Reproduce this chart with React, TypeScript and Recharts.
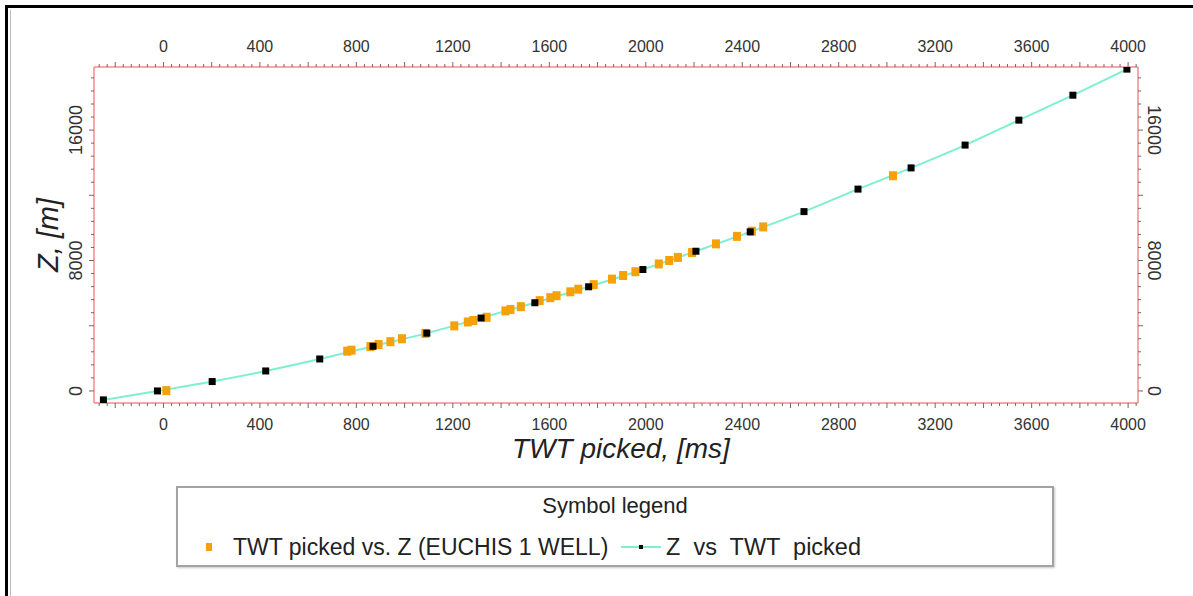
import * as React from "react"
import { ComposedChart, Line, Scatter, XAxis, YAxis, Legend } from "recharts"

// Z vs TWT picked (black markers on the aquamarine line)
const lineTwt = [-249, -25, 202, 424, 648, 869, 1092, 1317, 1540, 1763, 1988, 2208, 2433, 2656, 2880, 3100, 3324, 3547, 3771, 3995]
const lineZ = [-550, 0, 575, 1225, 1960, 2740, 3545, 4470, 5410, 6390, 7450, 8570, 9760, 11000, 12380, 13680, 15080, 16610, 18140, 19740]

// TWT picked vs. Z (EUCHIS 1 WELL) (orange squares)
const wellTwt = [12, 762, 780, 858, 892, 941, 989, 1086, 1206, 1262, 1285, 1340, 1418, 1439, 1482, 1560, 1604, 1630, 1687, 1720, 1784, 1860, 1906, 1957, 2054, 2097, 2133, 2192, 2291, 2378, 2440, 2487, 3025]
const wellZ = [20, 2440, 2500, 2720, 2850, 3020, 3200, 3530, 3990, 4230, 4320, 4520, 4910, 5000, 5170, 5540, 5720, 5840, 6080, 6240, 6520, 6860, 7080, 7310, 7790, 8000, 8190, 8490, 9020, 9480, 9800, 10060, 13200]

const xLabels = [0, 400, 800, 1200, 1600, 2000, 2400, 2800, 3200, 3600, 4000]
const yLabels = [0, 8000, 16000]

const X_DOMAIN: [number, number] = [-288, 4041]
const Y_DOMAIN: [number, number] = [-740, 19870]

const lineData = lineTwt.map((t, i) => ({ t, z: lineZ[i] }))
const wellData = wellTwt.map((t, i) => ({ t, z: wellZ[i] }))

// minor ticks every 200/6 ms, bigger every 200 ms
const xTicks: number[] = []
for (let k = -8; k <= 121; k++) xTicks.push((k * 100) / 3)
// minor ticks every 800 m, bigger every 4000 m
const yTicks: number[] = []
for (let k = 0; k <= 24; k++) yTicks.push(k * 800)

const BORDER = "#f28b8b"
const TICK = "#6b6b6b"
const TEXT = "#333"
const FONT = "'Liberation Sans', Arial, sans-serif"

const xKind = (v: number) => {
  const k = Math.round((v * 3) / 100)
  return { major: k % 6 === 0, label: xLabels.includes(Math.round(v)) && k % 12 === 0 }
}
const yKind = (v: number) => ({ major: v % 4000 === 0, label: yLabels.includes(v) })

const BottomTick = ({ x, y, payload }: any) => {
  const { major, label } = xKind(payload.value)
  return (
    <g>
      <line x1={x} y1={y} x2={x} y2={y + (major ? 5 : 3)} stroke={TICK} />
      {label && (
        <text x={x} y={y + 27} textAnchor="middle" fontSize={16} fill={TEXT} fontFamily={FONT}>
          {Math.round(payload.value)}
        </text>
      )}
    </g>
  )
}

const TopTick = ({ x, y, payload }: any) => {
  const { major, label } = xKind(payload.value)
  return (
    <g>
      <line x1={x} y1={y} x2={x} y2={y - (major ? 5 : 3)} stroke={TICK} />
      {label && (
        <text x={x} y={y - 15} textAnchor="middle" fontSize={16} fill={TEXT} fontFamily={FONT}>
          {Math.round(payload.value)}
        </text>
      )}
    </g>
  )
}

const LeftTick = ({ x, y, payload }: any) => {
  const { major, label } = yKind(payload.value)
  return (
    <g>
      <line x1={x} y1={y} x2={x - (major ? 5 : 3)} y2={y} stroke={TICK} />
      {label && (
        <text x={x - 12} y={y} transform={`rotate(-90 ${x - 12} ${y})`} textAnchor="middle" fontSize={18} fill={TEXT} fontFamily={FONT}>
          {payload.value}
        </text>
      )}
    </g>
  )
}

const RightTick = ({ x, y, payload }: any) => {
  const { major, label } = yKind(payload.value)
  return (
    <g>
      <line x1={x} y1={y} x2={x + (major ? 5 : 3)} y2={y} stroke={TICK} />
      {label && (
        <text x={x + 10} y={y} transform={`rotate(90 ${x + 10} ${y})`} textAnchor="middle" fontSize={18} fill={TEXT} fontFamily={FONT}>
          {payload.value}
        </text>
      )}
    </g>
  )
}

const BlackDot = (props: any) => {
  const { cx, cy, index } = props
  if (cx == null || cy == null) return <g key={`d${index}`} />
  return <rect key={`d${index}`} x={cx - 3.5} y={cy - 3.5} width={7} height={7} fill="#000" />
}

const OrangeSquare = (props: any) => {
  const { cx, cy } = props
  return <rect x={cx - 4} y={cy - 4.5} width={8} height={9} fill="#f5a20a" />
}

const SymbolLegend = () => (
  <div
    style={{
      position: "relative",
      width: 878,
      height: 81,
      boxSizing: "border-box",
      border: "2px solid #a3a3a3",
      boxShadow: "1px 1px 2px #c8c8c8",
      background: "#fff",
      fontFamily: FONT,
      color: "#222",
    }}
  >
    <div style={{ position: "absolute", top: 6, left: 0, width: "100%", textAlign: "center", fontSize: 22, lineHeight: "24px" }}>
      Symbol legend
    </div>
    <div style={{ position: "absolute", left: 28, top: 55, width: 6, height: 8, background: "#f5a20a" }} />
    <div style={{ position: "absolute", left: 55, top: 46, fontSize: 23, lineHeight: "26px", whiteSpace: "pre" }}>
      TWT picked vs. Z (EUCHIS 1 WELL)
    </div>
    <div style={{ position: "absolute", left: 443, top: 58, width: 40, height: 2, background: "#7df0cf" }} />
    <div style={{ position: "absolute", left: 461, top: 57, width: 4, height: 4, background: "#000" }} />
    <div style={{ position: "absolute", left: 488, top: 46, fontSize: 23.5, lineHeight: "26px", whiteSpace: "pre" }}>
      {"Z  vs  TWT  picked"}
    </div>
  </div>
)

export default function App() {
  return (
    <div style={{ position: "absolute", left: 0, top: 0, width: 1193, height: 596, background: "#fff", overflow: "hidden" }}>
      <div style={{ position: "absolute", left: 5, top: 5, width: 1188, height: 3, background: "#000" }} />
      <div style={{ position: "absolute", left: 5, top: 5, width: 3, height: 591, background: "#000" }} />
      <div style={{ position: "absolute", left: 10, top: 10, width: 1, height: 586, background: "#bdbdbd" }} />
      <ComposedChart width={1193} height={596} data={lineData} margin={{ top: 27, right: 5, bottom: 133, left: 34 }}>
        <XAxis
          xAxisId="b"
          orientation="bottom"
          type="number"
          dataKey="t"
          domain={X_DOMAIN}
          allowDataOverflow
          ticks={xTicks}
          interval={0}
          tickSize={0}
          tickMargin={0}
          tickLine={false}
          axisLine={{ stroke: BORDER, strokeWidth: 1.5 }}
          tick={(p: any) => <BottomTick {...p} />}
          height={60}
        />
        <XAxis
          xAxisId="t"
          orientation="top"
          type="number"
          dataKey="t"
          domain={X_DOMAIN}
          allowDataOverflow
          ticks={xTicks}
          interval={0}
          tickSize={0}
          tickMargin={0}
          tickLine={false}
          axisLine={{ stroke: BORDER, strokeWidth: 1.5 }}
          tick={(p: any) => <TopTick {...p} />}
          height={40}
        />
        <YAxis
          yAxisId="l"
          orientation="left"
          type="number"
          dataKey="z"
          domain={Y_DOMAIN}
          allowDataOverflow
          ticks={yTicks}
          interval={0}
          tickSize={0}
          tickMargin={0}
          tickLine={false}
          axisLine={{ stroke: BORDER, strokeWidth: 1.5 }}
          tick={(p: any) => <LeftTick {...p} />}
          width={60}
          label={{ value: "Z, [m]", angle: -90, position: "insideLeft", offset: 14, style: { fontSize: 29, fontStyle: "italic", fill: "#222", fontFamily: FONT, textAnchor: "middle" } }}
        />
        <YAxis
          yAxisId="r"
          orientation="right"
          type="number"
          dataKey="z"
          domain={Y_DOMAIN}
          allowDataOverflow
          ticks={yTicks}
          interval={0}
          tickSize={0}
          tickMargin={0}
          tickLine={false}
          axisLine={{ stroke: BORDER, strokeWidth: 1.5 }}
          tick={(p: any) => <RightTick {...p} />}
          width={50}
        />
        <Scatter
          xAxisId="b"
          yAxisId="l"
          name="TWT picked vs. Z (EUCHIS 1 WELL)"
          data={wellData}
          dataKey="z"
          shape={(p: any) => <OrangeSquare {...p} />}
          isAnimationActive={false}
        />
        <Line
          xAxisId="b"
          yAxisId="l"
          name="Z vs TWT picked"
          type="monotone"
          dataKey="z"
          stroke="#7df0cf"
          strokeWidth={2}
          dot={BlackDot}
          activeDot={false}
          isAnimationActive={false}
        />
        <Legend
          layout="horizontal"
          verticalAlign="middle"
          align="center"
          wrapperStyle={{ left: 176, top: 486, width: 878, height: 81 }}
          content={() => <SymbolLegend />}
        />
      </ComposedChart>
      <div
        style={{
          position: "absolute",
          left: 0,
          width: 1193,
          top: 432,
          fontFamily: FONT,
          fontStyle: "italic",
          fontSize: 28,
          lineHeight: "34px",
          color: "#222",
        }}
      >
        <span style={{ position: "absolute", left: 512, top: 0, whiteSpace: "pre" }}>TWT picked, [ms]</span>
      </div>
    </div>
  )
}
